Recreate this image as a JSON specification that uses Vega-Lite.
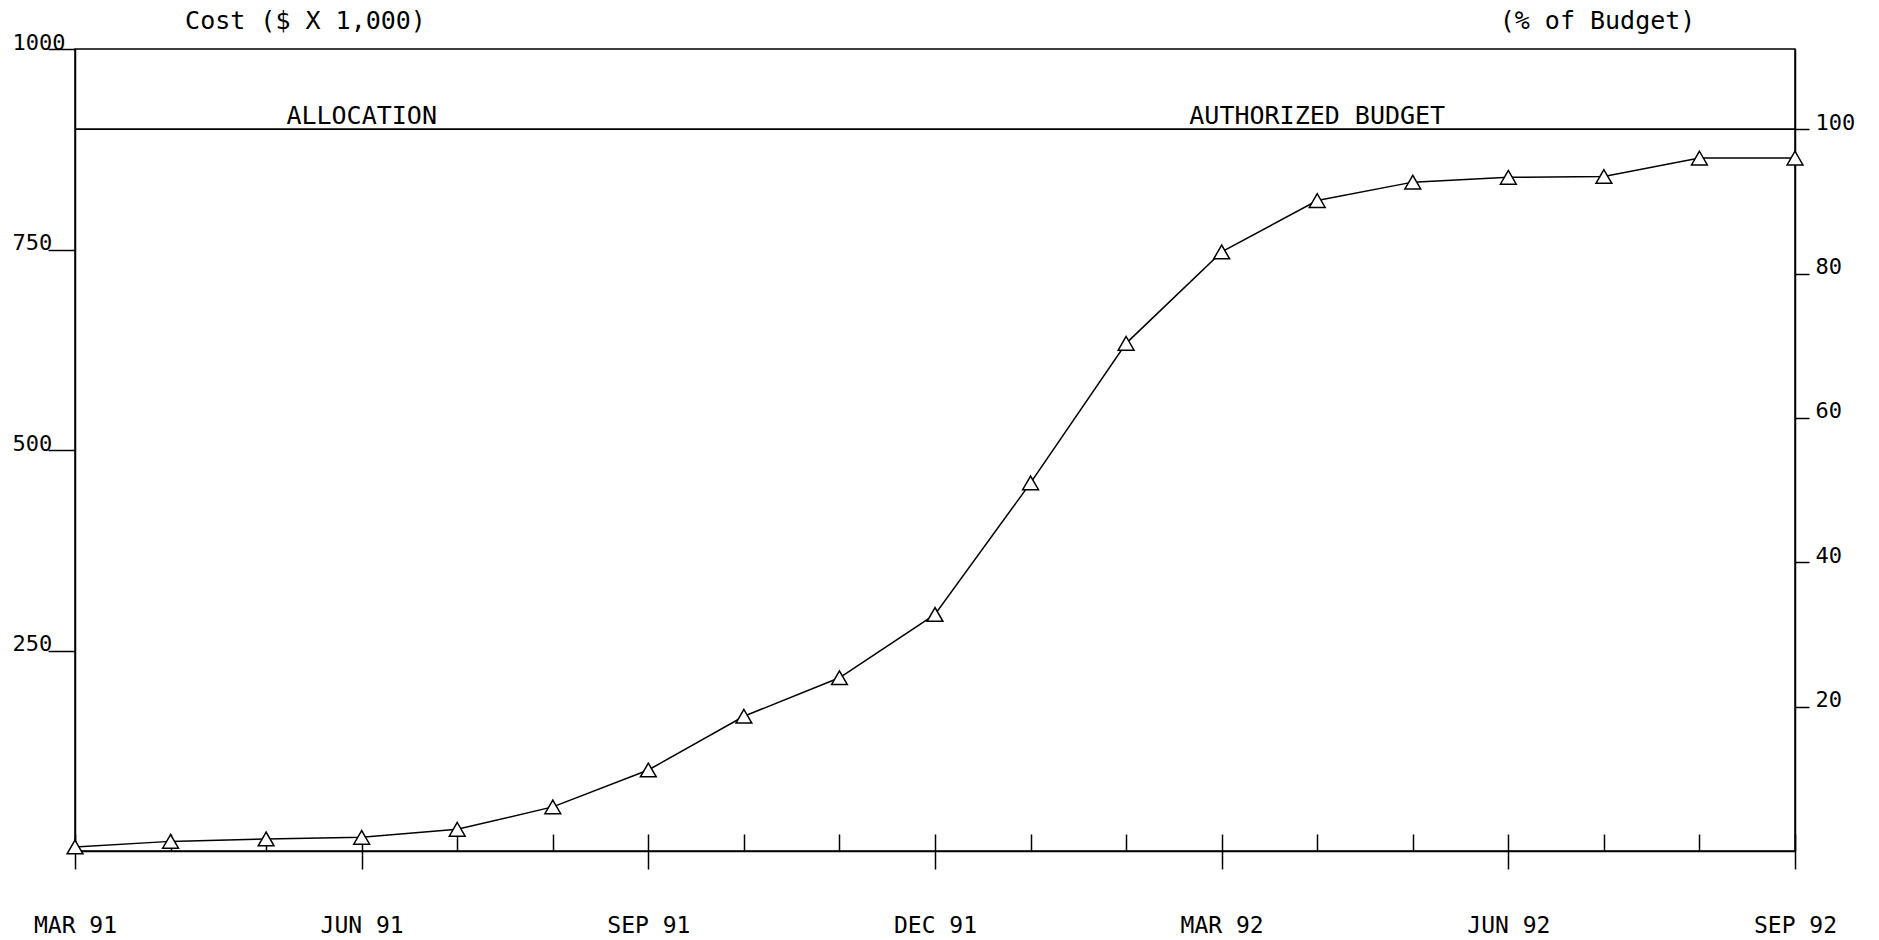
{
  "$schema": "https://vega.github.io/schema/vega-lite/v6.json",
  "autosize": {"type": "none"},
  "width": 1720,
  "height": 802,
  "padding": {"left": 75, "top": 49, "right": 84, "bottom": 89},
  "background": "white",
  "config": {
    "view": {"stroke": "black", "strokeWidth": 1.5},
    "axis": {
      "grid": false,
      "domainColor": "black",
      "domainWidth": 1.5,
      "tickColor": "black",
      "tickWidth": 1.5,
      "labelColor": "black",
      "labelFont": "DejaVu Sans Mono",
      "labelFontSize": 22,
      "labelFontWeight": "normal",
      "titleFont": "DejaVu Sans Mono",
      "titleFontSize": 25,
      "titleFontWeight": "normal",
      "titleColor": "black"
    },
    "text": {"font": "DejaVu Sans Mono", "fontSize": 25, "color": "black"}
  },
  "datasets": {
    "cost": [
      {"month": "MAR 91", "cost": 5},
      {"month": "APR 91", "cost": 12},
      {"month": "MAY 91", "cost": 15},
      {"month": "JUN 91", "cost": 17},
      {"month": "JUL 91", "cost": 27},
      {"month": "AUG 91", "cost": 55},
      {"month": "SEP 91", "cost": 101},
      {"month": "OCT 91", "cost": 168},
      {"month": "NOV 91", "cost": 216},
      {"month": "DEC 91", "cost": 295},
      {"month": "JAN 92", "cost": 459},
      {"month": "FEB 92", "cost": 633},
      {"month": "MAR 92", "cost": 747},
      {"month": "APR 92", "cost": 811},
      {"month": "MAY 92", "cost": 834},
      {"month": "JUN 92", "cost": 840},
      {"month": "JUL 92", "cost": 841},
      {"month": "AUG 92", "cost": 864},
      {"month": "SEP 92", "cost": 864}
    ],
    "labels": [
      {"month": "JUN 91", "cost": 900, "label": "ALLOCATION"},
      {"month": "APR 92", "cost": 900, "label": "AUTHORIZED BUDGET"}
    ]
  },
  "layer": [
    {
      "data": {"name": "cost"},
      "mark": {"type": "line", "color": "black", "strokeWidth": 1.5},
      "encoding": {
        "x": {
          "field": "month", "type": "ordinal",
          "scale": {"type": "point", "padding": 0, "domain": ["MAR 91","APR 91","MAY 91","JUN 91","JUL 91","AUG 91","SEP 91","OCT 91","NOV 91","DEC 91","JAN 92","FEB 92","MAR 92","APR 92","MAY 92","JUN 92","JUL 92","AUG 92","SEP 92"]},
          "axis": {
            "orient": "bottom",
            "title": null,
            "values": ["MAR 91","JUN 91","SEP 91","DEC 91","MAR 92","JUN 92","SEP 92"],
            "tickSize": 18,
            "labelAngle": 0,
            "labelFontSize": 23,
            "labelPadding": 45,
            "labelBaseline": "top",
            "domain": true
          }
        },
        "y": {
          "field": "cost", "type": "quantitative",
          "scale": {"domain": [0, 1000], "nice": false, "zero": true},
          "axis": {
            "orient": "left",
            "values": [250, 500, 750, 1000],
            "format": "d",
            "tickSize": 27,
            "labelAlign": "left",
            "labelPadding": 36,
            "labelBaseline": "alphabetic",
            "title": "Cost ($ X 1,000)",
            "titleAngle": 0,
            "titleX": 230,
            "titleY": -29,
            "titleAlign": "center",
            "titleBaseline": "middle"
          }
        }
      }
    },
    {
      "data": {"name": "cost"},
      "mark": {"type": "point", "shape": "triangle-up", "size": 250, "filled": true, "fill": "white", "stroke": "black", "strokeWidth": 1.5, "opacity": 1},
      "encoding": {
        "x": {
          "field": "month", "type": "ordinal",
          "axis": {
            "orient": "bottom",
            "title": null,
            "tickSize": -17,
            "labels": false,
            "domain": false
          }
        },
        "y": {"field": "cost", "type": "quantitative", "axis": null}
      }
    },
    {
      "data": {"name": "labels"},
      "mark": {"type": "rule", "color": "black", "strokeWidth": 1.5},
      "encoding": {
        "y": {
          "field": "cost", "type": "quantitative",
          "axis": {
            "orient": "right",
            "values": [180, 360, 540, 720, 900],
            "labelExpr": "round(datum.value / 9)",
            "tickSize": 14,
            "labelPadding": 6,
            "labelAlign": "left",
            "labelBaseline": "alphabetic",
            "title": "(% of Budget)",
            "titleAngle": 0,
            "titleX": -198,
            "titleY": -29,
            "titleAlign": "center",
            "titleBaseline": "middle"
          }
        }
      }
    },
    {
      "data": {"name": "labels"},
      "mark": {"type": "text", "baseline": "alphabetic", "align": "center", "dy": -5},
      "encoding": {
        "x": {"field": "month", "type": "ordinal", "axis": null},
        "y": {"field": "cost", "type": "quantitative", "axis": null},
        "text": {"field": "label"}
      }
    }
  ],
  "resolve": {"axis": {"x": "independent", "y": "independent"}}
}
